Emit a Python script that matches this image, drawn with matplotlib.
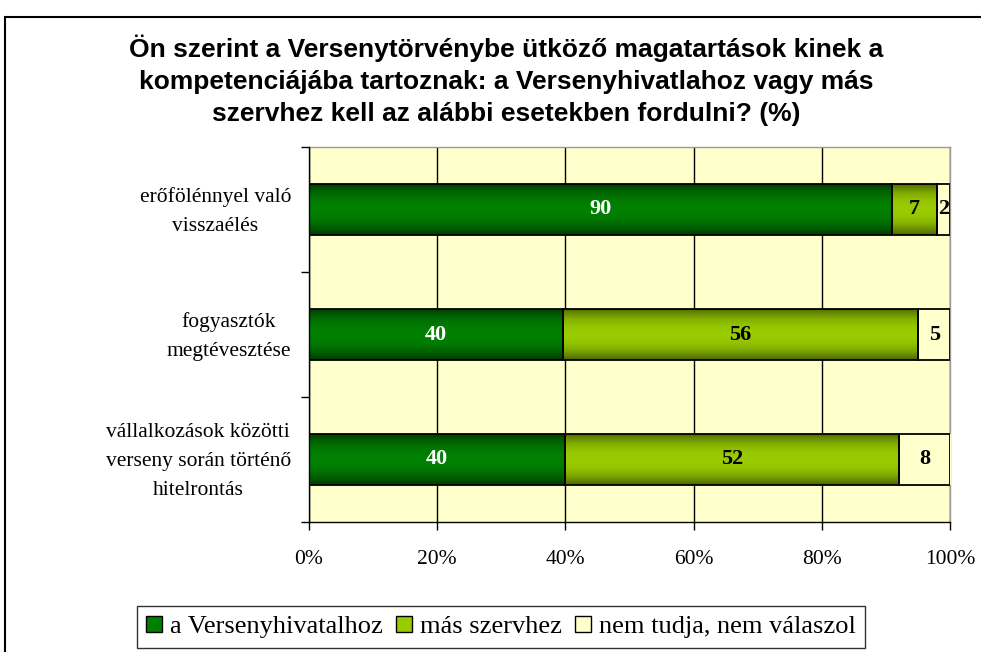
import matplotlib
matplotlib.use("Agg")
import matplotlib.pyplot as plt
import numpy as np
from matplotlib.patches import Rectangle, Patch
from matplotlib.colors import to_rgb
from matplotlib.transforms import blended_transform_factory, ScaledTranslation

categories = ["erőfölénnyel való\nvisszaélés",
              "fogyasztók\nmegtévesztése",
              "vállalkozások közötti\nverseny során történő\nhitelrontás"]
series_names = ["a Versenyhivatalhoz", "más szervhez", "nem tudja, nem válaszol"]
versenyhivatal = [90, 40, 40]
mas_szerv = [7, 56, 52]
nem_tudja = [2, 5, 8]
xtick_labels = ["0%", "20%", "40%", "60%", "80%", "100%"]

colors = ["#008000", "#99CC00", "#FFFFCC"]
gradient_depth = [0.55, 0.5, 0.0]
label_colors = ["white", "black", "black"]

W, H = 981, 652
fig = plt.figure(figsize=(W / 100, H / 100), dpi=100)
ax = fig.add_axes([309 / W, 1 - 522 / H, (950 - 309) / W, (522 - 147) / H])
ax.set_facecolor("#FFFFCC")
ax.set_xlim(0, 1)
ax.set_ylim(2.5, -0.5)
ax.set_autoscale_on(False)

data = np.array([versenyhivatal, mas_szerv, nem_tudja], dtype=float)
totals = data.sum(axis=0)
shares = data / totals
ypos = np.arange(len(categories))
left = np.zeros(len(categories))
tprof = np.linspace(-1, 1, 64)
handles = []
for i, name in enumerate(series_names):
    bars = ax.barh(ypos, shares[i], left=left, height=0.41, color=colors[i],
                   edgecolor="black", linewidth=1.3, zorder=3)
    base = np.array(to_rgb(colors[i]))
    fac = 1 - gradient_depth[i] * np.clip(np.abs(tprof) ** 2.2, 0, 1)
    grad = (base[None, :] * fac[:, None])[:, None, :]
    for b in bars:
        x0, y0 = b.get_x(), b.get_y()
        w, h = b.get_width(), b.get_height()
        b.set_facecolor("none")
        im = ax.imshow(grad, extent=(x0, x0 + w, y0 + h, y0), aspect="auto",
                       interpolation="bilinear", zorder=2.9)
        im.set_clip_path(b)
    for j in range(len(categories)):
        ax.text(left[j] + shares[i][j] / 2, ypos[j], f"{int(data[i][j])}",
                ha="center", va="center", color=label_colors[i],
                fontfamily="Liberation Serif", fontweight="bold", fontsize=16, zorder=4)
    handles.append(Patch(facecolor=colors[i], edgecolor="black", linewidth=1, label=name))
    left += shares[i]

ax.set_xlim(0, 1)
ax.set_ylim(2.5, -0.5)
ax.set_xticks(np.linspace(0, 1, 6))
ax.set_xticklabels(xtick_labels, fontfamily="Liberation Serif", fontsize=15.5)
ax.set_yticks([-0.5, 0.5, 1.5, 2.5])
ax.set_yticklabels([])
ax.tick_params(axis="y", which="major", length=6, direction="out", width=1)
ax.tick_params(axis="x", length=6, direction="out", width=1, pad=14)

trans = blended_transform_factory(ax.transAxes, ax.transData) + \
    ScaledTranslation(-18 / 100, -2 / 100, fig.dpi_scale_trans)
for j, cat in enumerate(categories):
    ax.text(0, ypos[j], cat, transform=trans, ha="right", va="center",
            multialignment="center", fontfamily="Liberation Serif", fontsize=15.5,
            linespacing=1.7)

ax.grid(axis="x", color="black", linewidth=1, zorder=1)
ax.set_axisbelow(True)
for s in ["top", "right"]:
    ax.spines[s].set_color("#999999")
    ax.spines[s].set_linewidth(1)
for s in ["left", "bottom"]:
    ax.spines[s].set_linewidth(1)
    ax.spines[s].set_zorder(5)

fig.text(506 / W, 1 - 80 / H,
         "Ön szerint a Versenytörvénybe ütköző magatartások kinek a\n"
         "kompetenciájába tartoznak: a Versenyhivatlahoz vagy más\n"
         "szervhez kell az alábbi esetekben fordulni? (%)",
         ha="center", va="center", fontfamily="Liberation Sans", fontweight="bold",
         fontsize=19, linespacing=1.43)

fig.patches.append(Rectangle((5 / W, -0.1), 1.2, 1 - 17 / H + 0.1,
                             transform=fig.transFigure, fill=False,
                             edgecolor="black", linewidth=1.5))

leg = fig.legend(handles=handles, loc="center", bbox_to_anchor=(501 / W, 1 - 627 / H),
                 ncol=3, prop={"family": "Liberation Serif", "size": 19},
                 frameon=True, fancybox=False, edgecolor="black",
                 handlelength=0.6, handleheight=0.6, handletextpad=0.3,
                 columnspacing=0.5, borderpad=0.35)
leg.get_frame().set_linewidth(1)

fig.savefig("out.png", dpi=100)
